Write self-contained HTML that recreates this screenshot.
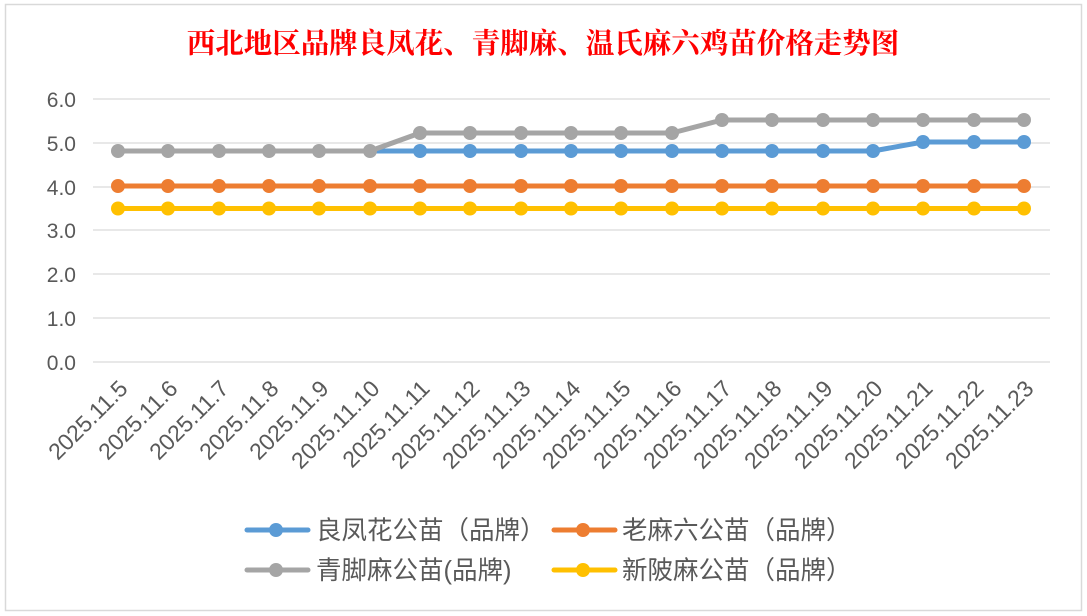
<!DOCTYPE html>
<html><head><meta charset="utf-8"><style>
body{margin:0;background:#fff}
svg{display:block}
text{font-family:"Liberation Sans","Noto Sans CJK SC",sans-serif}
</style></head><body>
<svg width="1087" height="616" xmlns="http://www.w3.org/2000/svg">
<rect x="0" y="0" width="1087" height="616" fill="#fff"/>
<rect x="5.5" y="4.5" width="1076" height="606" fill="#fff" stroke="#d9d9d9" stroke-width="1.5"/>
<text x="543" y="53" text-anchor="middle" font-size="28.5" font-weight="bold" fill="#ff0000" style="font-family:'Noto Serif CJK SC','Liberation Serif',serif">西北地区品牌良凤花、青脚麻、温氏麻六鸡苗价格走势图</text>
<g stroke="#d9d9d9" stroke-width="1.3">
<line x1="93" y1="99" x2="1050" y2="99"/><line x1="93" y1="143" x2="1050" y2="143"/><line x1="93" y1="187" x2="1050" y2="187"/><line x1="93" y1="230" x2="1050" y2="230"/><line x1="93" y1="274" x2="1050" y2="274"/><line x1="93" y1="318" x2="1050" y2="318"/><line x1="93" y1="362" x2="1050" y2="362"/>
</g>
<g font-size="21" fill="#595959" text-anchor="end">
<text x="76" y="107">6.0</text><text x="76" y="151">5.0</text><text x="76" y="195">4.0</text><text x="76" y="238">3.0</text><text x="76" y="282">2.0</text><text x="76" y="326">1.0</text><text x="76" y="370">0.0</text>
</g>
<g font-size="23" fill="#595959" text-anchor="end">
<text transform="translate(129,390) rotate(-45)">2025.11.5</text>
<text transform="translate(179,390) rotate(-45)">2025.11.6</text>
<text transform="translate(230,390) rotate(-45)">2025.11.7</text>
<text transform="translate(280,390) rotate(-45)">2025.11.8</text>
<text transform="translate(330,390) rotate(-45)">2025.11.9</text>
<text transform="translate(381,390) rotate(-45)">2025.11.10</text>
<text transform="translate(431,390) rotate(-45)">2025.11.11</text>
<text transform="translate(481,390) rotate(-45)">2025.11.12</text>
<text transform="translate(532,390) rotate(-45)">2025.11.13</text>
<text transform="translate(582,390) rotate(-45)">2025.11.14</text>
<text transform="translate(632,390) rotate(-45)">2025.11.15</text>
<text transform="translate(683,390) rotate(-45)">2025.11.16</text>
<text transform="translate(733,390) rotate(-45)">2025.11.17</text>
<text transform="translate(783,390) rotate(-45)">2025.11.18</text>
<text transform="translate(834,390) rotate(-45)">2025.11.19</text>
<text transform="translate(884,390) rotate(-45)">2025.11.20</text>
<text transform="translate(934,390) rotate(-45)">2025.11.21</text>
<text transform="translate(985,390) rotate(-45)">2025.11.22</text>
<text transform="translate(1035,390) rotate(-45)">2025.11.23</text>
</g>
<g fill="none" stroke-width="5" stroke-linejoin="round" stroke-linecap="round">
<polyline stroke="#ffc000" points="118,208.5 1024,208.5"/>
<polyline stroke="#ed7d31" points="118,186 1024,186"/>
<polyline stroke="#5b9bd5" points="118,151 873,151 923,142 1024,142"/>
<polyline stroke="#a5a5a5" points="118,151 370,151 420,133 672,133 722,120 1024,120"/>
</g>
<g fill="#ffc000"><circle cx="118" cy="208.5" r="7"/><circle cx="168" cy="208.5" r="7"/><circle cx="219" cy="208.5" r="7"/><circle cx="269" cy="208.5" r="7"/><circle cx="319" cy="208.5" r="7"/><circle cx="370" cy="208.5" r="7"/><circle cx="420" cy="208.5" r="7"/><circle cx="470" cy="208.5" r="7"/><circle cx="521" cy="208.5" r="7"/><circle cx="571" cy="208.5" r="7"/><circle cx="621" cy="208.5" r="7"/><circle cx="672" cy="208.5" r="7"/><circle cx="722" cy="208.5" r="7"/><circle cx="772" cy="208.5" r="7"/><circle cx="823" cy="208.5" r="7"/><circle cx="873" cy="208.5" r="7"/><circle cx="923" cy="208.5" r="7"/><circle cx="974" cy="208.5" r="7"/><circle cx="1024" cy="208.5" r="7"/></g>
<g fill="#ed7d31"><circle cx="118" cy="186" r="7"/><circle cx="168" cy="186" r="7"/><circle cx="219" cy="186" r="7"/><circle cx="269" cy="186" r="7"/><circle cx="319" cy="186" r="7"/><circle cx="370" cy="186" r="7"/><circle cx="420" cy="186" r="7"/><circle cx="470" cy="186" r="7"/><circle cx="521" cy="186" r="7"/><circle cx="571" cy="186" r="7"/><circle cx="621" cy="186" r="7"/><circle cx="672" cy="186" r="7"/><circle cx="722" cy="186" r="7"/><circle cx="772" cy="186" r="7"/><circle cx="823" cy="186" r="7"/><circle cx="873" cy="186" r="7"/><circle cx="923" cy="186" r="7"/><circle cx="974" cy="186" r="7"/><circle cx="1024" cy="186" r="7"/></g>
<g fill="#5b9bd5"><circle cx="420" cy="151" r="7"/><circle cx="470" cy="151" r="7"/><circle cx="521" cy="151" r="7"/><circle cx="571" cy="151" r="7"/><circle cx="621" cy="151" r="7"/><circle cx="672" cy="151" r="7"/><circle cx="722" cy="151" r="7"/><circle cx="772" cy="151" r="7"/><circle cx="823" cy="151" r="7"/><circle cx="873" cy="151" r="7"/><circle cx="923" cy="142" r="7"/><circle cx="974" cy="142" r="7"/><circle cx="1024" cy="142" r="7"/></g>
<g fill="#a5a5a5"><circle cx="118" cy="151" r="7"/><circle cx="168" cy="151" r="7"/><circle cx="219" cy="151" r="7"/><circle cx="269" cy="151" r="7"/><circle cx="319" cy="151" r="7"/><circle cx="370" cy="151" r="7"/><circle cx="420" cy="133" r="7"/><circle cx="470" cy="133" r="7"/><circle cx="521" cy="133" r="7"/><circle cx="571" cy="133" r="7"/><circle cx="621" cy="133" r="7"/><circle cx="672" cy="133" r="7"/><circle cx="722" cy="120" r="7"/><circle cx="772" cy="120" r="7"/><circle cx="823" cy="120" r="7"/><circle cx="873" cy="120" r="7"/><circle cx="923" cy="120" r="7"/><circle cx="974" cy="120" r="7"/><circle cx="1024" cy="120" r="7"/></g>
<g stroke-width="5" stroke-linecap="round">
<line x1="247" y1="530" x2="308" y2="530" stroke="#5b9bd5"/><circle cx="276" cy="530" r="7" fill="#5b9bd5"/>
<line x1="554" y1="530" x2="615" y2="530" stroke="#ed7d31"/><circle cx="583" cy="530" r="7" fill="#ed7d31"/>
<line x1="247" y1="570" x2="308" y2="570" stroke="#a5a5a5"/><circle cx="276" cy="570" r="7" fill="#a5a5a5"/>
<line x1="554" y1="570" x2="615" y2="570" stroke="#ffc000"/><circle cx="583" cy="570" r="7" fill="#ffc000"/>
</g>
<g font-size="25.5" fill="#595959">
<text x="316" y="539">良凤花公苗（品牌）</text>
<text x="622" y="539">老麻六公苗（品牌）</text>
<text x="316" y="579">青脚麻公苗(品牌)</text>
<text x="622" y="579">新陂麻公苗（品牌）</text>
</g>
</svg>
</body></html>
